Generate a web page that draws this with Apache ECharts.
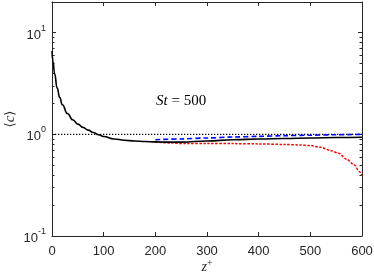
<!DOCTYPE html>
<html>
<head>
<meta charset="utf-8">
<script src="https://cdn.jsdelivr.net/npm/echarts@6/dist/echarts.min.js"></script>
<style>
html,body{margin:0;padding:0;background:#fff;}
#c{width:374px;height:276px;}
</style>
</head>
<body>
<div id="c"></div>
<script>
// ---- data ----
const zBlack = [0,2,5,10,15,20,30,40,50,60,70,80,90,100,120,140,160,180,200,220,250,300,350,400,450,500,550,600];
const cBlack = [6.6,5.2,3.95,2.85,2.3,1.95,1.6,1.39,1.26,1.17,1.1,1.04,0.99,0.95,0.9,0.875,0.86,0.85,0.842,0.838,0.838,0.86,0.885,0.9,0.91,0.92,0.93,0.937];
const zBlue = [200,250,300,350,400,450,500,550,600];
const cBlue = [0.885,0.9,0.92,0.94,0.955,0.97,0.98,0.99,1.0];
const zRed = [200,230,260,300,350,400,450,480,500,520,540,555,570,585,595,600];
const cRed = [0.84,0.82,0.81,0.81,0.81,0.805,0.795,0.785,0.775,0.745,0.69,0.65,0.57,0.5,0.43,0.39];
const zRef = [0,600];
const cRef = [1,1];
const xTicks = [0,100,200,300,400,500,600];
const yMajor = [0.1,1,10];
const yMinor = [0.2,0.3,0.4,0.5,0.6,0.7,0.8,0.9,2,3,4,5,6,7,8,9];
const annotation = 'St = 500';

const pair = (xs, ys) => xs.map((x,i)=>[x, ys[i]]);
const axisColor = '#262626';
const fontSans = 'Liberation Sans';
const fontSerif = 'Liberation Serif';

const chart = echarts.init(document.getElementById('c'), null, {renderer:'canvas'});

function expLabel(v){
  if (!yMajor.some(m=>Math.abs(m-v)<1e-9*m)) return '';
  const e = Math.round(Math.log10(v));
  return '{b|10}{s|' + e + '}';
}

const minorLog = yMinor.map(v=>Math.log10(v));
const grid = {left:52, right:12, top:2, bottom:40, containLabel:false, outerBoundsMode:'none'};

const xBase = {
  type:'value', min:0, max:600, interval:100,
  axisLine:{show:true, onZero:false, lineStyle:{color:axisColor, width:1}},
  axisTick:{show:true, inside:true, length:4, lineStyle:{color:axisColor}},
  splitLine:{show:false}
};
const yLogBase = {
  type:'log', logBase:10, min:0.1, max:20,
  axisLine:{show:true, onZero:false, lineStyle:{color:axisColor, width:1}},
  axisTick:{show:true, inside:true, length:4, lineStyle:{color:axisColor}},
  splitLine:{show:false}, minorTick:{show:false}, minorSplitLine:{show:false}
};
const yMinorBase = {
  type:'value', min:-1, max:Math.log10(20),
  axisLine:{show:false, onZero:false},
  axisTick:{show:true, inside:true, length:2.5, lineStyle:{color:axisColor}, customValues:minorLog},
  axisLabel:{show:false},
  splitLine:{show:false}
};

chart.setOption({
  animation:false,
  backgroundColor:'#fff',
  grid:grid,
  xAxis:[
    Object.assign({}, xBase, {
      position:'bottom',
      axisLabel:{show:true, color:axisColor, fontFamily:fontSans, fontSize:13, margin:9},
      name:'{i|z}{s|+}', nameLocation:'middle', nameGap:22, nameMoveOverlap:false,
      nameTextStyle:{rich:{
        i:{fontFamily:fontSerif, fontStyle:'italic', fontSize:14, color:axisColor, verticalAlign:'bottom', lineHeight:16},
        s:{fontFamily:fontSerif, fontSize:10, color:axisColor, verticalAlign:'top', lineHeight:16}
      }}
    }),
    Object.assign({}, xBase, {position:'top', axisLabel:{show:false}})
  ],
  yAxis:[
    Object.assign({}, yLogBase, {
      position:'left',
      axisLabel:{show:true, margin:6, formatter:expLabel, rich:{
        b:{fontFamily:fontSans, fontSize:13, color:axisColor, verticalAlign:'bottom', lineHeight:18},
        s:{fontFamily:fontSans, fontSize:9, color:axisColor, verticalAlign:'top', lineHeight:18}
      }},
      name:'{a|⟨}{i|c}{a|⟩}', nameLocation:'middle', nameGap:34, nameMoveOverlap:false,
      nameTextStyle:{rich:{
        a:{fontFamily:'DejaVu Serif', fontSize:13, color:axisColor},
        i:{fontFamily:fontSerif, fontStyle:'italic', fontSize:15, color:axisColor}
      }}
    }),
    Object.assign({}, yLogBase, {position:'right', axisLabel:{show:false}}),
    Object.assign({}, yMinorBase, {position:'left'}),
    Object.assign({}, yMinorBase, {position:'right'})
  ],
  graphic:[{
    type:'text', left:156, top:94,
    style:{
      text:'{i|St}{n| = 500}',
      rich:{
        i:{fontFamily:fontSerif, fontStyle:'italic', fontSize:15, fill:'#000'},
        n:{fontFamily:fontSerif, fontSize:15, fill:'#000'}
      }
    }
  }],
  series:[
    {type:'line', name:'ref', data:pair(zRef,cRef), xAxisIndex:0, yAxisIndex:0, symbol:'none',
     lineStyle:{color:'#000', width:1.3, type:[1.3,1.7]}, z:1},
    {type:'line', name:'red', data:pair(zRed,cRed), xAxisIndex:0, yAxisIndex:0, symbol:'none', smooth:0.3, smoothMonotone:'x',
     lineStyle:{color:'#ff0000', width:1.5, type:[2.5,1.5]}, z:2},
    {type:'line', name:'blue', data:pair(zBlue,cBlue), xAxisIndex:0, yAxisIndex:0, symbol:'none', smooth:0.3, smoothMonotone:'x',
     lineStyle:{color:'#0000ff', width:1.6, type:[5,3]}, z:3},
    {type:'line', name:'black', data:pair(zBlack,cBlack), xAxisIndex:0, yAxisIndex:0, symbol:'none', smooth:0.5, smoothMonotone:'x',
     lineStyle:{color:'#000', width:1.6}, z:4}
  ]
});
</script>
</body>
</html>
